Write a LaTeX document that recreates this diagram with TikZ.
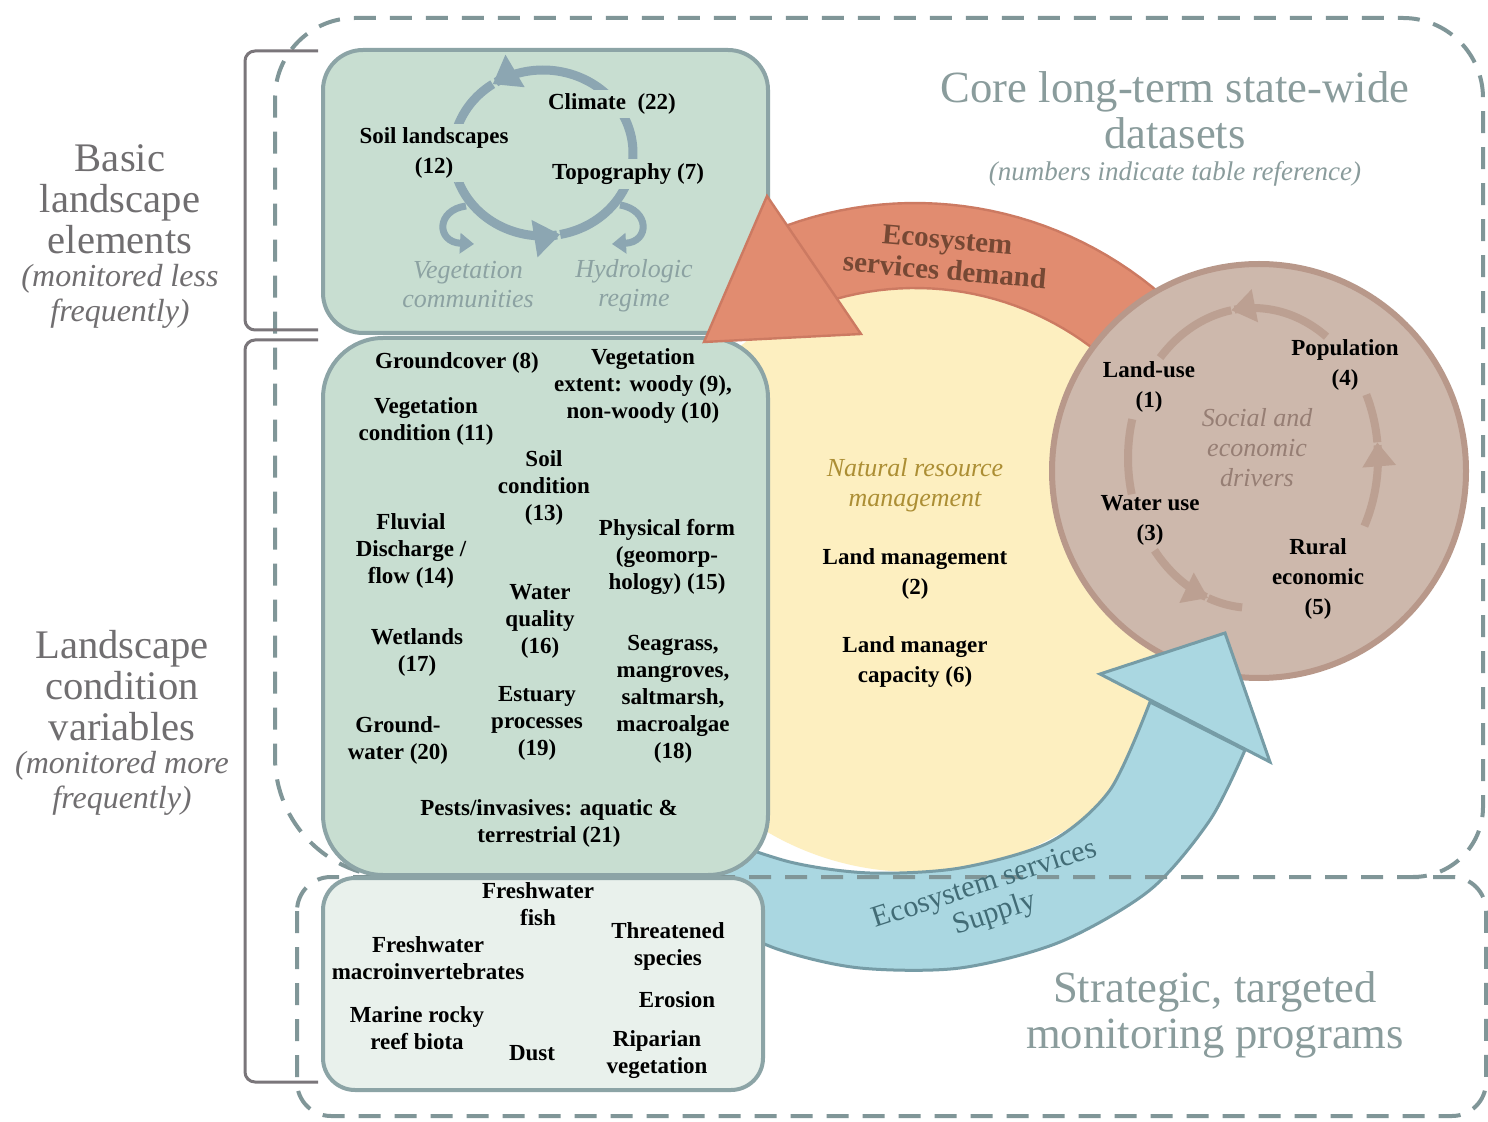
\documentclass[tikz,border=0pt]{standalone}
\usepackage{fontspec}
\setmainfont{Liberation Serif}
\usetikzlibrary{arrows.meta}
\definecolor{gfill}{RGB}{200,222,209}
\definecolor{gline}{RGB}{140,164,166}
\definecolor{gthree}{RGB}{233,241,236}
\definecolor{yfill}{RGB}{253,239,192}
\definecolor{bfill}{RGB}{205,184,172}
\definecolor{bline}{RGB}{184,152,138}
\definecolor{barc}{RGB}{188,160,146}
\definecolor{ofill}{RGB}{225,140,112}
\definecolor{oline}{RGB}{204,122,98}
\definecolor{blfill}{RGB}{170,215,225}
\definecolor{blline}{RGB}{118,156,166}
\definecolor{dashc}{RGB}{128,150,152}
\definecolor{brack}{RGB}{122,118,122}
\definecolor{lgray}{RGB}{112,110,112}
\definecolor{tgray}{RGB}{138,156,156}
\definecolor{garc}{RGB}{140,166,178}
\definecolor{gital}{RGB}{140,162,162}
\definecolor{nrmc}{RGB}{172,142,52}
\definecolor{demc}{RGB}{118,72,52}
\definecolor{supc}{RGB}{66,108,118}
\definecolor{socc}{RGB}{150,126,116}
\tikzset{
  txt/.style={font=\fontsize{11.5}{13.5}\selectfont\bfseries, align=center, inner sep=1pt, text=black},
  txtw/.style={font=\fontsize{11.5}{15}\selectfont\bfseries, align=center, inner sep=1pt, text=black},
  txtf/.style={txtw, fill=gfill, inner sep=2pt},
  itx/.style={font=\fontsize{13}{14.5}\selectfont\itshape, align=center, inner sep=0pt},
  bigl/.style={font=\fontsize{20.3}{20.5}\selectfont, align=center, text=lgray, inner sep=0pt},
  bigit/.style={font=\fontsize{16}{17.5}\selectfont\itshape, align=center, text=lgray, inner sep=0pt},
  titl/.style={font=\fontsize{22.3}{22.8}\selectfont, align=center, text=tgray, inner sep=0pt},
  gbox/.style={draw=gline, line width=2pt, fill=gfill},
  dashreg/.style={draw=dashc, line width=2pt, dash pattern=on 11pt off 7pt},
  bracket/.style={draw=brack, line width=1.5pt, rounded corners=5pt},
  cyc/.style={draw=garc, line width=4.5pt},
  bcyc/.style={draw=barc, line width=4pt},
}
\begin{document}
\begin{tikzpicture}[x=0.5pt,y=-0.5pt]
\useasboundingbox (0,0) rectangle (1488,1122);
\fill[white] (0,0) rectangle (1488,1122);

% yellow NRM circle
\fill[yfill] (915,580) circle[radius=292];

% blue supply band
\filldraw[fill=blfill, draw=blline, line width=1.5pt]
  plot[smooth] coordinates {(700,915) (780,950) (860,968) (960,968) (1060,942) (1150,890) (1210,820) (1245,750)}
  -- plot[smooth] coordinates {(1150,702) (1110,790) (1050,842) (960,868) (870,873) (790,862) (700,832)}
  -- cycle;

% dashed regions
\draw[dashreg] (395,877) [rounded corners=60pt] -- (275,877) [rounded corners=40pt] -- (275,18) -- (1483,18) [rounded corners=35pt] -- (1483,877) -- (1413,877);
\draw[dashreg, rounded corners=17pt] (297,877) rectangle (1486,1116);

% green boxes
\draw[gbox, rounded corners=20pt] (323,50) rectangle (768,333);
\draw[gbox, rounded corners=30pt] (323,338) rectangle (768,875);
\draw[gbox, fill=gthree, rounded corners=16pt] (323,878) rectangle (763,1090);

% orange demand band
\filldraw[fill=ofill, draw=oline, line width=1.2pt]
  plot[domain=-30:-112, samples=40, variable=\t] ({915+377*cos(\t)},{580+377*sin(\t)})
  -- plot[domain=-112:-30, samples=40, variable=\t] ({915+292*cos(\t)},{580+292*sin(\t)})
  -- cycle;

% brown drivers circle
\filldraw[fill=bfill, draw=bline, line width=3pt] (1259,471) circle[radius=207];

% arrow heads
\filldraw[fill=ofill, draw=oline, line width=1.2pt] (767,196) -- (704,342) -- (861,334) -- cycle;
\filldraw[fill=blfill, draw=blline, line width=1.5pt] (1100,674) -- (1225,633) -- (1270,762) -- cycle;

% brown cycle
\draw[bcyc, -{Triangle[length=12pt,width=16pt]}] plot[domain=-54:-100, samples=30, variable=\t] ({1253+125*cos(\t)},{458+150*sin(\t)});
\draw[bcyc] plot[domain=-100:-138, samples=30, variable=\t] ({1253+125*cos(\t)},{458+150*sin(\t)});
\draw[bcyc, -{Triangle[length=12pt,width=16pt]}] plot[domain=27:-6, samples=30, variable=\t] ({1253+125*cos(\t)},{458+150*sin(\t)});
\draw[bcyc] plot[domain=-6:-25, samples=20, variable=\t] ({1253+125*cos(\t)},{458+150*sin(\t)});
\draw[bcyc, -{Triangle[length=12pt,width=16pt]}] plot[domain=142:111, samples=30, variable=\t] ({1253+125*cos(\t)},{458+150*sin(\t)});
\draw[bcyc] plot[domain=111:95, samples=20, variable=\t] ({1253+125*cos(\t)},{458+150*sin(\t)});
\draw[bcyc] plot[domain=166:195, samples=20, variable=\t] ({1253+125*cos(\t)},{458+150*sin(\t)});

% green cycle
\draw[cyc, -{Triangle[length=13pt,width=18pt]}] plot[domain=160:79, samples=40, variable=\t] ({543+90*cos(\t)},{153+83*sin(\t)});
\draw[cyc, -{Triangle[length=13pt,width=18pt]}] plot[domain=79:-124, samples=80, variable=\t] ({543+90*cos(\t)},{153+83*sin(\t)});
\draw[cyc] plot[domain=-124:-200, samples=40, variable=\t] ({543+90*cos(\t)},{153+83*sin(\t)});
\draw[cyc, line width=3.5pt, -{Triangle[length=7pt,width=10pt]}] (466,206) .. controls (436,210) and (436,242) .. (474,244);
\draw[cyc, line width=3.5pt, -{Triangle[length=7pt,width=10pt]}] (620,205) .. controls (650,210) and (650,242) .. (612,244);

% box 1 texts
\node[txtf] (climate) at (612,104) {Climate\ \ (22)};
\node[txtf] (soil) at (434,153) {Soil landscapes\\(12)};
\node[txtf] (topo) at (628,174) {Topography\ (7)};
\node[itx, text=gital] (vegcom) at (468,285) {Vegetation\\communities};
\node[itx, text=gital] (hydro) at (634,286) {Hydrologic\\regime};

% box 2 texts
\node[txt] (ground) at (457,363) {Groundcover (8)};
\node[txt] (vegext) at (643,386) {Vegetation\\extent: woody (9),\\non-woody (10)};
\node[txt] (vegcond) at (426,421) {Vegetation\\condition (11)};
\node[txt] (soilc) at (544,488) {Soil\\condition\\(13)};
\node[txt] (fluv) at (411,551) {Fluvial\\Discharge /\\flow (14)};
\node[txt] (phys) at (667,557) {Physical form\\(geomorp-\\hology) (15)};
\node[txt] (wq) at (540,621) {Water\\quality\\(16)};
\node[txt] (wet) at (417,652) {Wetlands\\(17)};
\node[txt] (sea) at (673,699) {Seagrass,\\mangroves,\\saltmarsh,\\macroalgae\\(18)};
\node[txt] (est) at (537,723) {Estuary\\processes\\(19)};
\node[txt] (gw) at (398,740) {Ground-\\water (20)};
\node[txt] (pests) at (549,823) {Pests/invasives: aquatic \&\\terrestrial (21)};

% box 3 texts
\node[txt] (fwfish) at (538,904) {Freshwater\\fish};
\node[txt] (fwmacro) at (428,958) {Freshwater\\macroinvertebrates};
\node[txt] (threat) at (668,946) {Threatened\\species};
\node[txt] (erosion) at (677,1000) {Erosion};
\node[txt] (marine) at (417,1028) {Marine rocky\\reef biota};
\node[txt] (dust) at (532,1053) {Dust};
\node[txt] (riparian) at (657,1055) {Riparian\\vegetation};

% NRM texts
\node[itx, text=nrmc, font=\fontsize{13}{15}\selectfont\itshape] (nrm) at (915,485) {Natural resource\\management};
\node[txtw] (lm) at (915,574) {Land management\\(2)};
\node[txtw] (lmc) at (915,662) {Land manager\\capacity (6)};

% drivers texts
\node[txtw] (pop) at (1345,365) {Population\\(4)};
\node[txtw] (landuse) at (1149,387) {Land-use\\(1)};
\node[itx, text=socc, font=\fontsize{13}{15}\selectfont\itshape] (social) at (1257,448) {Social and\\economic\\drivers};
\node[txtw] (wateruse) at (1150,520) {Water use\\(3)};
\node[txtw] (rural) at (1318,579) {Rural\\economic\\(5)};

% arrow labels
\node[font=\fontsize{14.5}{15.5}\selectfont\bfseries, text=demc, align=center, rotate=-5, inner sep=0pt] (demand) at (946,255) {Ecosystem\\services demand};
\node[font=\fontsize{15}{15.5}\selectfont, text=supc, align=center, rotate=18, inner sep=0pt] (supply) at (990,900) {Ecosystem services\\Supply};

% left labels
\node[bigl] (basic) at (120,199) {Basic\\landscape\\elements};
\node[bigit] (basicsub) at (120,296) {(monitored less\\frequently)};
\node[bigl] (lcv) at (122,686) {Landscape\\condition\\variables};
\node[bigit] (lcvsub) at (122,783) {(monitored more\\frequently)};

% titles
\node[titl] (core) at (1175,110) {Core long-term state-wide\\datasets};
\node[font=\fontsize{13.5}{15}\selectfont\itshape, text=tgray, inner sep=0pt] (coresub) at (1175,174) {(numbers indicate table reference)};
\node[titl] (strat) at (1215,1015) {Strategic, targeted\\monitoring programs};

% brackets
\draw[bracket] (318,51) -- (245,51) -- (245,330) -- (318,330);
\draw[bracket] (318,340) -- (245,340) -- (245,1082) -- (318,1082);
\end{tikzpicture}
\end{document}
